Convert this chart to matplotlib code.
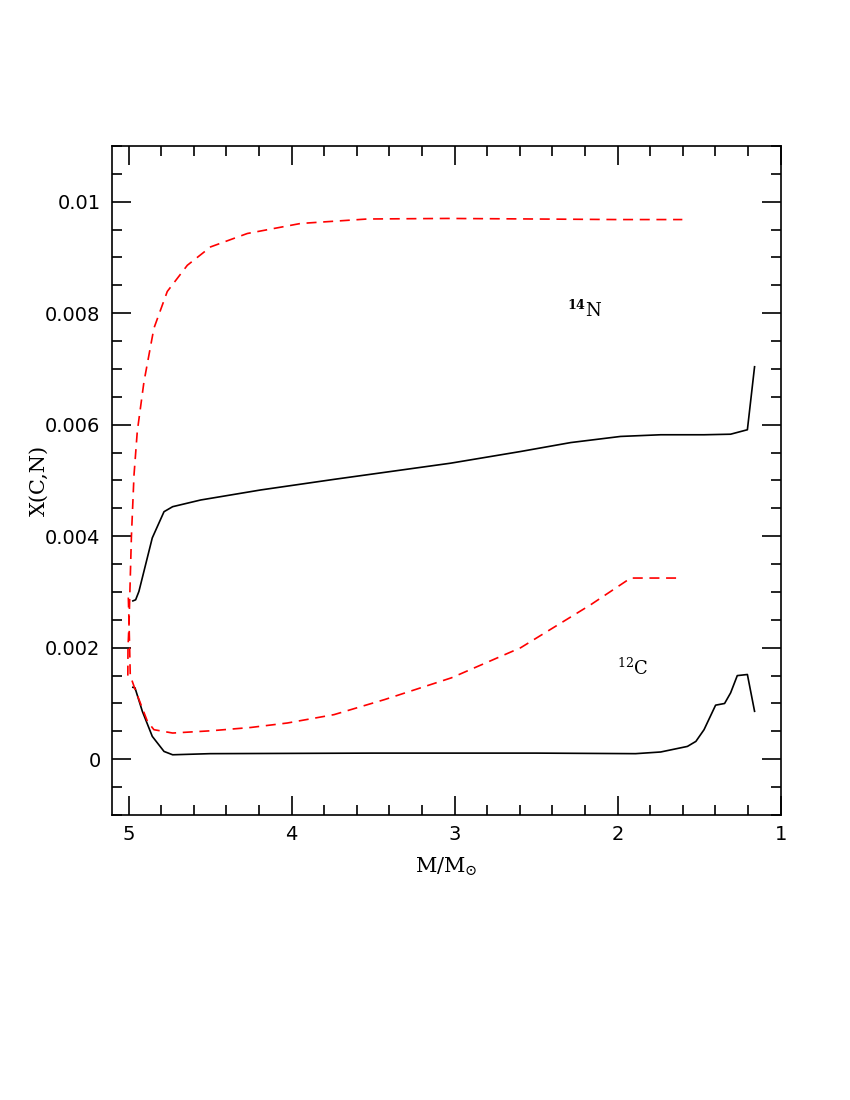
import numpy as np
import matplotlib.pyplot as plt
from matplotlib.ticker import MultipleLocator, FuncFormatter

plt.rcParams['font.family'] = 'DejaVu Sans'
plt.rcParams['mathtext.fontset'] = 'dejavuserif'

# 14N, solid black
n_solid_m = [4.974, 4.957, 4.937, 4.896, 4.855, 4.783, 4.73, 4.558, 4.19, 3.74,
             3.025, 2.595, 2.288, 1.982, 1.736, 1.47, 1.307, 1.204, 1.16]
n_solid_x = [0.00284, 0.00286, 0.00301, 0.00349, 0.00397, 0.00444, 0.00453, 0.00465,
             0.00483, 0.00502, 0.00531, 0.00552, 0.00568, 0.00579, 0.00582, 0.00582,
             0.00583, 0.00591, 0.00704]

# 14N, dashed red
n_dash_m = [5.005, 5.004, 4.998, 4.983, 4.967, 4.947, 4.906, 4.845, 4.763, 4.64,
            4.497, 4.272, 3.945, 3.536, 3.045, 2.5, 2.0, 1.603]
n_dash_x = [0.0015, 0.0020, 0.0024, 0.0040, 0.0051, 0.00588, 0.00677, 0.00773, 0.00839,
            0.00886, 0.00919, 0.00943, 0.00961, 0.00969, 0.0097, 0.00969, 0.00968, 0.00968]

# 12C, solid black
c_solid_m = [4.974, 4.961, 4.916, 4.855, 4.783, 4.73, 4.5, 3.5, 2.5, 1.89, 1.736,
             1.572, 1.52, 1.47, 1.399, 1.344, 1.307, 1.266, 1.204, 1.16]
c_solid_x = [0.00129, 0.00128, 0.00086, 0.00041, 0.00014, 0.00008, 0.0001, 0.00011,
             0.00011, 0.0001, 0.00013, 0.00023, 0.00032, 0.00053, 0.00097, 0.001,
             0.00119, 0.0015, 0.00152, 0.00086]

# 12C, dashed red
c_dash_m = [5.002, 4.998, 4.99, 4.96, 4.885, 4.845, 4.73, 4.497, 4.25, 4.026, 3.74,
            3.43, 3.02, 2.595, 2.35, 2.166, 1.92, 1.603]
c_dash_x = [0.0029, 0.0025, 0.0015, 0.00125, 0.00068, 0.00053, 0.00047, 0.00051,
            0.00057, 0.00065, 0.0008, 0.00107, 0.00146, 0.002, 0.00244, 0.00277,
            0.00325, 0.00325]

fig = plt.figure(figsize=(8.5, 11), dpi=100)
ax = fig.add_axes([0.1314, 0.2591, 0.787, 0.6082])

ax.plot(n_solid_m, n_solid_x, color='black', lw=1.2)
ax.plot(c_solid_m, c_solid_x, color='black', lw=1.2)
l1, = ax.plot(n_dash_m, n_dash_x, color='red', lw=1.2)
l2, = ax.plot(c_dash_m, c_dash_x, color='red', lw=1.2)
for l in (l1, l2):
    l.set_dashes((6, 4))

ax.set_xlim(5.104, 1.0)
ax.set_ylim(-0.001, 0.011)

ax.xaxis.set_major_locator(MultipleLocator(1))
ax.xaxis.set_minor_locator(MultipleLocator(0.2))
ax.yaxis.set_major_locator(MultipleLocator(0.002))
ax.yaxis.set_minor_locator(MultipleLocator(0.0005))
ax.yaxis.set_major_formatter(FuncFormatter(lambda v, p: '0' if abs(v) < 1e-9 else f'{v:g}'))
ax.xaxis.set_major_formatter(FuncFormatter(lambda v, p: f'{v:g}'))

ax.tick_params(which='both', direction='in', top=True, right=True, width=1.2, labelsize=14)
ax.tick_params(which='major', length=14)
ax.tick_params(which='minor', length=7)
ax.tick_params(axis='x', which='major', pad=7)
ax.tick_params(axis='y', which='major', pad=8)
for s in ax.spines.values():
    s.set_linewidth(1.2)

ax.set_xlabel(r'$\mathrm{M/M_{\odot}}$', fontsize=15, family='DejaVu Serif', va='baseline')
ax.xaxis.set_label_coords(0.5, -0.087)
ax.set_ylabel('X(C,N)', fontsize=15, family='DejaVu Serif', va='center')
ax.yaxis.set_label_coords(-0.109, 0.5)

ax.text(2.2, 0.00806, r'$^{\mathbf{14}}\mathrm{N}$', fontsize=13, ha='center', va='center')
ax.text(1.91, 0.00163, r'$^{12}\mathrm{C}$', fontsize=13, ha='center', va='center')

fig.savefig('out.png', dpi=100)
